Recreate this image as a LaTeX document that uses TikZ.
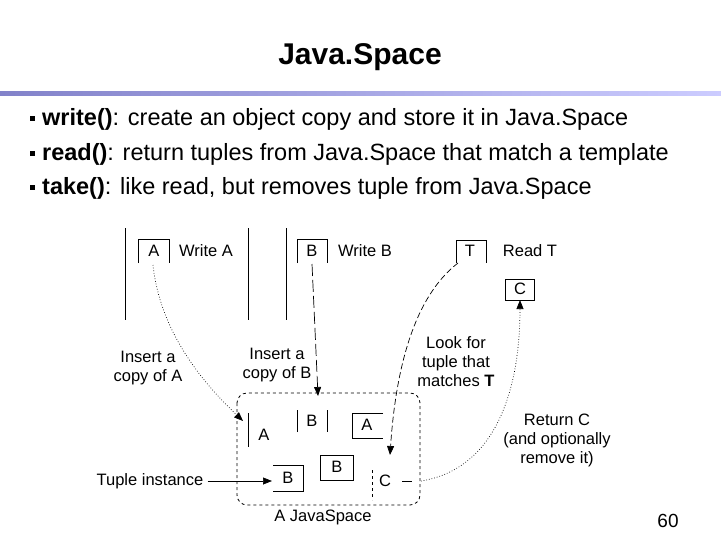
\documentclass[tikz,border=0pt]{standalone}
\usepackage{fontspec}
\setmainfont{Liberation Sans}
\usetikzlibrary{arrows.meta}
\begin{document}
\begin{tikzpicture}[x=1pt,y=-1pt,
  lbl/.style={font=\fontsize{16.5}{19}\selectfont,inner sep=0pt,align=center},
  bul/.style={font=\fontsize{23.5}{26}\selectfont,anchor=west,inner sep=0pt},
  ln/.style={line width=0.8pt},
  arr/.style={line width=0.7pt,-{Triangle[length=9pt,width=7pt]}}]
\useasboundingbox (0,0) rectangle (721,541);
\node[font=\fontsize{30}{33}\selectfont\bfseries] (title) at (360,57) {Java.Space};
\shade[left color=gray!60!blue!70, right color=blue!20] (0,91) rectangle (721,95);
\foreach \y/\n in {119/b1,154/b2,188/b3} \fill (30,\y-3) rectangle (35,\y+2);
\node[bul] (t1) at (42,119) {\textbf{write()}: create an object copy and store it in Java.Space};
\node[bul] (t2) at (42,154) {\textbf{read()}: return tuples from Java.Space that match a template};
\node[bul] (t3) at (42,188) {\textbf{take()}: like read, but removes tuple from Java.Space};
% process lines
\foreach \x in {125,248,286} \draw[ln] (\x,228) -- (\x,320);
\draw[ln] (138,263) -- (138,239) -- (169,239) -- (169,263);
\node[lbl] (A1) at (154,251) {A};
\node[lbl] (wa) at (206,251) {Write A};
\draw[ln] (297,263) -- (297,239) -- (327,239) -- (327,263);
\node[lbl] (B1) at (312,251) {B};
\node[lbl] (wb) at (365,251) {Write B};
\draw[ln] (456,263) -- (456,240) -- (486,240) -- (486,263);
\node[lbl] (T1) at (470,251) {T};
\node[lbl] (rt) at (530,251) {Read T};
\draw[ln] (505,279) rectangle (534,300);
\node[lbl] (C1) at (520,289) {C};
% javaspace
\draw[ln,dashed,rounded corners=10pt] (237,393) rectangle (420,505);
\node[lbl] (js) at (323,517) {A JavaSpace};
\draw[ln] (248,413) -- (248,447);
\node[lbl] (A2) at (264,435) {A};
\draw[ln] (297,432) -- (297,410); \draw[ln] (327,410) -- (327,432);
\node[lbl] (B2) at (312,421) {B};
\draw[ln] (383,413) -- (352,413) -- (352,438) -- (383,438);
\node[lbl] (A3) at (367,425) {A};
\draw[ln] (273,465) -- (303,465) -- (303,491) -- (273,491);
\node[lbl] (B3) at (288,478) {B};
\draw[ln] (320,455) rectangle (353,480);
\node[lbl] (B4) at (337,467) {B};
\draw[ln,dashed] (372,470) -- (372,500);
\node[lbl] (C2) at (385,481) {C};
\draw[ln] (402,481) -- (412,481);
% labels
\node[lbl] (ti) at (150,481) {Tuple instance};
\node[lbl] (ia) at (148,368) {Insert a\\copy of A};
\node[lbl] (ib) at (277,365) {Insert a\\copy of B};
\node[lbl] (lf) at (456,362) {Look for\\tuple that\\matches \textbf{T}};
\node[lbl] (rc) at (557,440) {Return C\\(and optionally\\remove it)};
\node[font=\fontsize{19}{21}\selectfont] (pg) at (668,521) {60};
% arrows
\draw[arr] (ti.east) ++(4,0) -- (272,481);
\draw[arr,dotted] (153,265) .. controls (160,330) and (200,380) .. (243,421);
\draw[arr,dash pattern=on 12pt off 4pt] (312,264) -- (318,396);
\draw[arr,dash pattern=on 6pt off 3pt] (458,263) .. controls (410,300) and (395,380) .. (390,455);
\draw[arr,dotted] (421,481) .. controls (490,470) and (520,400) .. (520,300);
\end{tikzpicture}
\end{document}
